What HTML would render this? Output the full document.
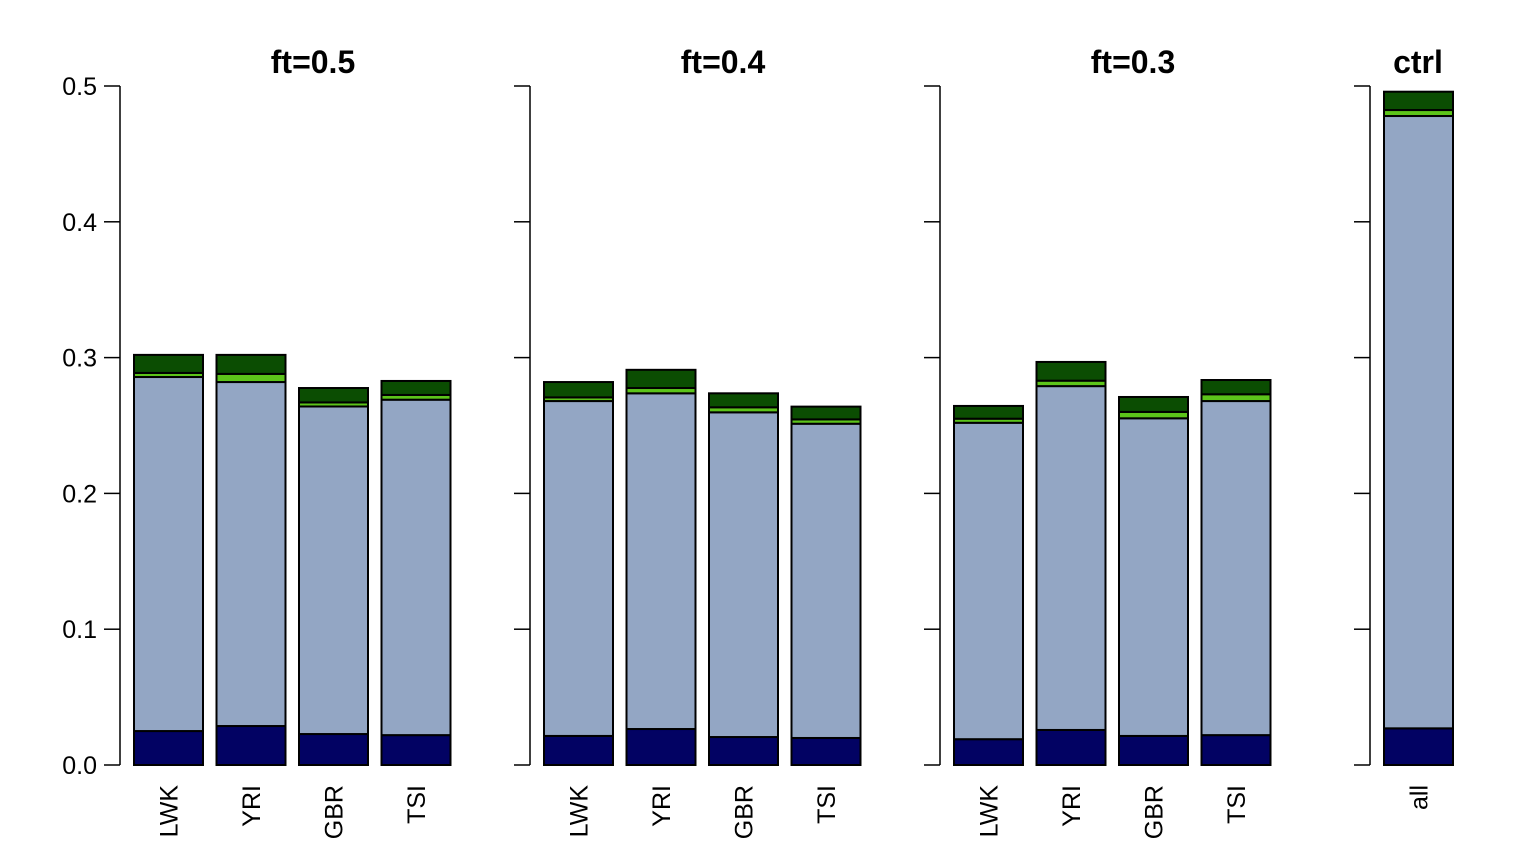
<!DOCTYPE html>
<html><head><meta charset="utf-8"><style>
html,body{margin:0;padding:0;background:#fff}
svg{display:block}
text{font-family:"Liberation Sans",sans-serif;fill:#000}
</style></head><body>
<svg id="chart" width="1535" height="863" xmlns="http://www.w3.org/2000/svg"></svg>
<script>
const panelTitles = ["ft=0.5","ft=0.4","ft=0.3","ctrl"];
const categories = [["LWK","YRI","GBR","TSI"],["LWK","YRI","GBR","TSI"],["LWK","YRI","GBR","TSI"],["all"]];
// cumulative tops of each segment: navy, bluegrey, lightgreen, darkgreen
const navyTop = [[0.025,0.0287,0.0228,0.022],[0.0214,0.0265,0.0206,0.0199],[0.019,0.0258,0.0214,0.022],[0.027]];
const greyTop = [[0.2857,0.282,0.264,0.269],[0.268,0.2737,0.2597,0.2513],[0.252,0.279,0.2553,0.268],[0.4779]];
const lgTop = [[0.2887,0.288,0.267,0.2725],[0.2707,0.2776,0.2634,0.2545],[0.255,0.283,0.260,0.273],[0.4823]];
const totalTop = [[0.302,0.302,0.2776,0.2828],[0.282,0.291,0.2737,0.2639],[0.2644,0.2968,0.271,0.2835],[0.4958]];
const yTicks = [0,0.1,0.2,0.3,0.4,0.5];
const yTickLabels = ["0.0","0.1","0.2","0.3","0.4","0.5"];

const svg = document.getElementById('chart');
const NS = "http://www.w3.org/2000/svg";
const y0 = 765, pxPerUnit = 1358;
function yScale(v){ return y0 - v*pxPerUnit; }
const axisX = [120,530,940,1370];
const titleX = [313,723,1133,1418];
const barW = 69, barStep = 82.5, firstOff = 14;
const colors = ["#020263","#93a6c4","#5cc41a","#0b4d02"];
function mk(tag, attrs){ const e=document.createElementNS(NS,tag); for(const k in attrs) e.setAttribute(k,attrs[k]); svg.appendChild(e); return e; }

panelTitles.forEach((t,p)=>{
  const ax = axisX[p];
  const al = mk('line',{x1:ax,y1:yScale(0.5),x2:ax,y2:yScale(0),stroke:'#000','stroke-width':1.5});
  
  
  yTicks.forEach((v,i)=>{
    const tk = mk('line',{x1:ax-16,y1:yScale(v),x2:ax,y2:yScale(v),stroke:'#000','stroke-width':1.5});
    
    
    if(p===0){
      const tl = mk('text',{x:ax-23,y:yScale(v)+9,'text-anchor':'end','font-size':25});
      tl.textContent = yTickLabels[i];
      
      
    }
  });
  const tt = mk('text',{x:titleX[p],y:73,'text-anchor':'middle','font-size':32,'font-weight':'bold'});
  tt.textContent = t;
  
  
  categories[p].forEach((c,i)=>{
    const bx = ax+firstOff+i*barStep;
    const bounds = [0,navyTop[p][i],greyTop[p][i],lgTop[p][i],totalTop[p][i]];
    for(let s=0;s<4;s++){
      const r = mk('rect',{x:bx,y:yScale(bounds[s+1]),width:barW,height:yScale(bounds[s])-yScale(bounds[s+1]),fill:colors[s],stroke:'#000','stroke-width':2});
      
      
    }
    const cx = bx+barW/2+9;
    const lbl = mk('text',{x:cx,y:785,'text-anchor':'end','font-size':25,transform:`rotate(-90 ${cx} 785)`});
    lbl.textContent = c;
    
    
  });
});
</script>
</body></html>
